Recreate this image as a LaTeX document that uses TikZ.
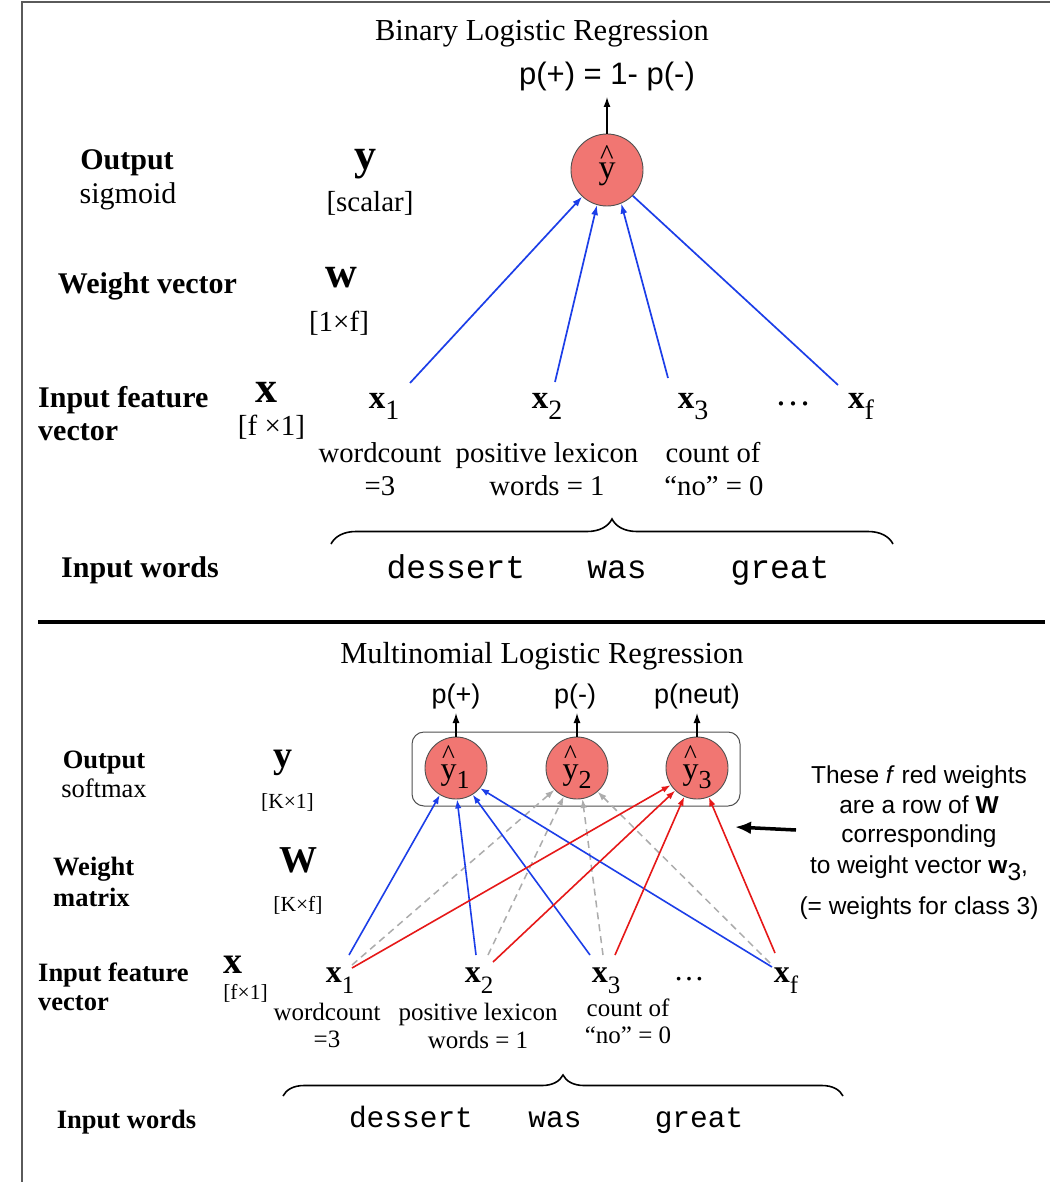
\documentclass[tikz,border=0pt]{standalone}
\usepackage{fontspec}
\usepackage{graphicx}
\setmainfont{Liberation Serif}
\setsansfont{Liberation Sans}
\setmonofont{Liberation Mono}
\usetikzlibrary{arrows.meta,decorations.pathreplacing}

\definecolor{wblue}{RGB}{28,62,232}
\definecolor{wred}{RGB}{230,24,24}
\definecolor{wgray}{RGB}{172,172,172}
\definecolor{unitfill}{RGB}{241,118,114}
\definecolor{unitedge}{RGB}{80,80,80}
\definecolor{framegray}{RGB}{90,90,90}

\newcommand\fs[1]{\fontsize{#1}{#1}\selectfont}
% y with a caret set above it; the argument is how far the caret is raised
\newcommand\hy[1]{\ooalign{\hfil\raisebox{#1}{\scalebox{0.85}{\char"5E}}\hfil\cr y\cr}}
% bold feature x with a lowered index: {index}{index size}
\newcommand\xv[2]{\textbf{x}\raisebox{-0.36em}{\fs{#2}#1}}

\tikzset{
  txt/.style={inner sep=0pt, anchor=base},
  txtw/.style={inner sep=0pt, anchor=base west},
  unit/.style={circle, fill=unitfill, draw=unitedge, line width=0.9pt, inner sep=0pt},
  headed/.style={-{Latex[length=10pt,width=7pt]}},
  smallhead/.style={-{Latex[length=9pt,width=6.5pt]}},
  outarrow/.style={line width=1.3pt, -{Latex[length=10pt,width=7pt]}},
  bluew/.style={draw=wblue, line width=1.7pt},
  redw/.style={draw=wred, line width=1.6pt},
  grayw/.style={draw=wgray, line width=1.5pt, dash pattern=on 7pt off 5pt},
  bracestyle/.style={line width=1.6pt, decorate, decoration={brace, amplitude=#1}},
}

\begin{document}
\begin{tikzpicture}[x=1pt, y=-1pt]
\useasboundingbox (0,0) rectangle (1050,1182);
\fill[white] (0,0) rectangle (1050,1182);

% frame edges
\draw[framegray, line width=2pt] (21,2) -- (1050,2);
\draw[framegray, line width=1.5pt] (22,2) -- (22,1182);

% ---------------- binary logistic regression ----------------
\node[txt, font=\fs{30.5}] (ttlbin) at (542,41) {Binary Logistic Regression};
\node[txt, font=\sffamily\fs{31}] (pbin) at (607,85) {p(+) = 1- p(-)};
\coordinate (pbinfoot) at (607,97);

\node[unit, minimum size=72pt] (yb) at (607,170) {};
\node[txt, font=\fs{34}] (ybtxt) at (607,179) {\hy{0.42em}};
\draw[outarrow] (yb) -- (pbinfoot);

\node[txt, font=\bfseries\fs{30}] (lout) at (127,170) {Output};
\node[txt, font=\fs{30}] (lsig) at (128,204) {sigmoid};
\node[txt, font=\bfseries\fs{30}] (lwv) at (147.5,293) {Weight vector};
\node[txtw, font=\bfseries\fs{30}] (lif) at (38,407) {Input feature};
\node[txtw, font=\bfseries\fs{30}] (lvec) at (38,440) {vector};
\node[txt, font=\bfseries\fs{30}] (liw) at (140,577) {Input words};

\node[txt, font=\bfseries\fs{44}] (sy) at (365,170) {y};
\node[txt, font=\fs{29}] (ssc) at (370,212) {[scalar]};
\node[txt, font=\bfseries\fs{44}] (sw) at (341,287) {w};
\node[txt, font=\fs{29}] (sws) at (339,331) {[1×f]};
\node[txt, font=\bfseries\fs{44}] (sx) at (266,402) {x};
\node[txt, font=\fs{29}] (sxs) at (271.5,435) {[f ×1]};

\node[txt, font=\fs{33}] (xa) at (384,408) {\xv{1}{28}};
\node[txt, font=\fs{33}] (xb) at (547,408) {\xv{2}{28}};
\node[txt, font=\fs{33}] (xc) at (693,408) {\xv{3}{28}};
\node[txt, font=\fs{36}] (xdots) at (793,405) {…};
\node[txt, font=\fs{33}] (xd) at (861,408) {\xv{f}{28}};

\node[txt, font=\fs{28.7}] (da1) at (380,462) {wordcount};
\node[txt, font=\fs{28.7}] (da2) at (380,495) {=3};
\node[txt, font=\fs{28.7}] (db1) at (547,462) {positive lexicon};
\node[txt, font=\fs{28.7}] (db2) at (547,495) {words = 1};
\node[txt, font=\fs{28.7}] (dc1) at (713,462) {count of};
\node[txt, font=\fs{28.7}] (dc2) at (714,495) {“no” = 0};

\coordinate (bral) at (331,544);
\coordinate (brar) at (893,544);
\draw[bracestyle=25pt] (bral) -- (brar);

\node[txt, font=\ttfamily\fs{33}] (wa) at (456,578) {dessert};
\node[txt, font=\ttfamily\fs{33}] (wb) at (617,578) {was};
\node[txt, font=\ttfamily\fs{33}] (wc) at (780,578) {great};

\coordinate (sa) at (410,383);
\coordinate (sb) at (555,382);
\coordinate (sc) at (668,378);
\coordinate (sd) at (838,385);
\draw[bluew, headed] (sa) -- (yb.-133);
\draw[bluew, headed] (sb) -- (yb.-106);
\draw[bluew, headed] (sc) -- (yb.-67);
\draw[bluew] (sd) -- (yb.-45);

% panel divider
\draw[line width=3.5pt] (38,622) -- (1045,622);

% ---------------- multinomial logistic regression ----------------
\node[txt, font=\fs{30.5}] (ttlmul) at (542,663) {Multinomial Logistic Regression};

\node[draw=unitedge, rounded corners=12pt, line width=1pt, minimum width=328pt,
      minimum height=74pt, inner sep=0pt] (outbox) at (576,769) {};

\node[unit, minimum size=62pt] (ym1) at (456,768) {};
\node[unit, minimum size=62pt] (ym2) at (577,768) {};
\node[unit, minimum size=62pt] (ym3) at (697,768) {};
\node[txt, font=\fs{32}] (ym1t) at (455,779) {\hy{0.5em}\raisebox{-0.31em}{\fs{26}1}};
\node[txt, font=\fs{32}] (ym2t) at (577,779) {\hy{0.5em}\raisebox{-0.31em}{\fs{26}2}};
\node[txt, font=\fs{32}] (ym3t) at (697,779) {\hy{0.5em}\raisebox{-0.31em}{\fs{26}3}};

\node[txt, font=\sffamily\fs{27}] (pp) at (456,703) {p(+)};
\node[txt, font=\sffamily\fs{27}] (pm) at (575,703) {p(-)};
\node[txt, font=\sffamily\fs{27}] (pn) at (697,703) {p(neut)};
\coordinate (ppfoot) at (456,713);
\coordinate (pmfoot) at (577,713);
\coordinate (pnfoot) at (697,713);
\draw[outarrow] (ym1) -- (ppfoot);
\draw[outarrow] (ym2) -- (pmfoot);
\draw[outarrow] (ym3) -- (pnfoot);

\node[txt, font=\bfseries\fs{26.5}] (mout) at (104,768) {Output};
\node[txt, font=\fs{26.5}] (msoft) at (104,797) {softmax};
\node[txtw, font=\bfseries\fs{26.5}] (mwt) at (53,875) {Weight};
\node[txtw, font=\bfseries\fs{26.5}] (mmat) at (53,906) {matrix};
\node[txtw, font=\bfseries\fs{26.5}] (mif) at (38,981) {Input feature};
\node[txtw, font=\bfseries\fs{26.5}] (mvec) at (38,1010) {vector};
\node[txt, font=\bfseries\fs{26.5}] (miw) at (126.5,1128) {Input words};

\node[txt, font=\bfseries\fs{38}] (my) at (282.5,767) {y};
\node[txt, font=\fs{21.5}] (mys) at (287.5,808) {[K×1]};
\node[txt, font=\bfseries\fs{38}] (mW) at (298.5,872) {W};
\node[txt, font=\fs{21.5}] (mWs) at (298,911) {[K×f]};
\node[txt, font=\bfseries\fs{38}] (mx) at (233,973) {x};
\node[txt, font=\fs{21.5}] (mxs) at (245.5,999) {[f×1]};

\node[txt, font=\fs{32}] (ma) at (340,982) {\xv{1}{25}};
\node[txt, font=\fs{32}] (mb) at (479,982) {\xv{2}{25}};
\node[txt, font=\fs{32}] (mc) at (606,982) {\xv{3}{25}};
\node[txt, font=\fs{31}] (mdots) at (689,980) {…};
\node[txt, font=\fs{32}] (md) at (786,982) {\xv{f}{25}};

\node[txt, font=\fs{25}] (ea1) at (327,1020) {wordcount};
\node[txt, font=\fs{25}] (ea2) at (327,1047) {=3};
\node[txt, font=\fs{25}] (eb1) at (478,1020) {positive lexicon};
\node[txt, font=\fs{25}] (eb2) at (478,1048) {words = 1};
\node[txt, font=\fs{25}] (ec1) at (628,1016) {count of};
\node[txt, font=\fs{25}] (ec2) at (628,1043) {“no” = 0};

\coordinate (brbl) at (283,1096);
\coordinate (brbr) at (843,1096);
\draw[bracestyle=21pt] (brbl) -- (brbr);

\node[txt, font=\ttfamily\fs{29.5}] (va) at (411,1127) {dessert};
\node[txt, font=\ttfamily\fs{29.5}] (vb) at (555,1127) {was};
\node[txt, font=\ttfamily\fs{29.5}] (vc) at (699,1127) {great};

% connector feet at the inputs
\coordinate (ba) at (349,955);
\coordinate (bb) at (476,955);
\coordinate (bc) at (590,955);
\coordinate (bd) at (772,967);
\coordinate (ga) at (352,965);
\coordinate (gb) at (488,955);
\coordinate (gc) at (603,955);
\coordinate (gd) at (770,963);
\coordinate (ra) at (352,968);
\coordinate (rb) at (493,962);
\coordinate (rc) at (615,955);
\coordinate (rd) at (775,953);

\draw[grayw, smallhead] (ga) -- (ym2.-136);
\draw[grayw, smallhead] (gb) -- (ym2.-115);
\draw[grayw, smallhead] (gc) -- (ym2.-80);
\draw[grayw, smallhead] (gd) -- (ym2.-49);

\draw[bluew, line width=1.6pt, smallhead] (ba) -- (ym1.-121);
\draw[bluew, line width=1.6pt, smallhead] (bb) -- (ym1.-88);
\draw[bluew, line width=1.6pt, smallhead] (bc) -- (ym1.-58);
\draw[bluew, line width=1.6pt, smallhead] (bd) -- (ym1.-40);

\draw[redw, smallhead] (ra) -- (ym3.-147);
\draw[redw, smallhead] (rb) -- (ym3.-134);
\draw[redw, smallhead] (rc) -- (ym3.-114);
\draw[redw, smallhead] (rd) -- (ym3.-68);

% note on the red weights
\node[txt, font=\sffamily\fs{24.5}] (n1) at (919,783) {These \textit{f} red weights};
\node[txt, font=\sffamily\fs{24.5}] (n2) at (919,813) {are a row of \textbf{W}};
\node[txt, font=\sffamily\fs{24.5}] (n3) at (919,842) {corresponding};
\node[txt, font=\sffamily\fs{24.5}] (n4) at (919,873) {to weight vector \textbf{w}\raisebox{-0.3em}{3},};
\node[txt, font=\sffamily\fs{24.5}] (n5) at (919,914) {(= weights for class 3)};

\coordinate (ptrtail) at (796,830);
\coordinate (ptrtip) at (735,827);
\draw[line width=3.5pt, -{Latex[length=16pt,width=13pt]}] (ptrtail) -- (ptrtip);
\end{tikzpicture}
\end{document}
